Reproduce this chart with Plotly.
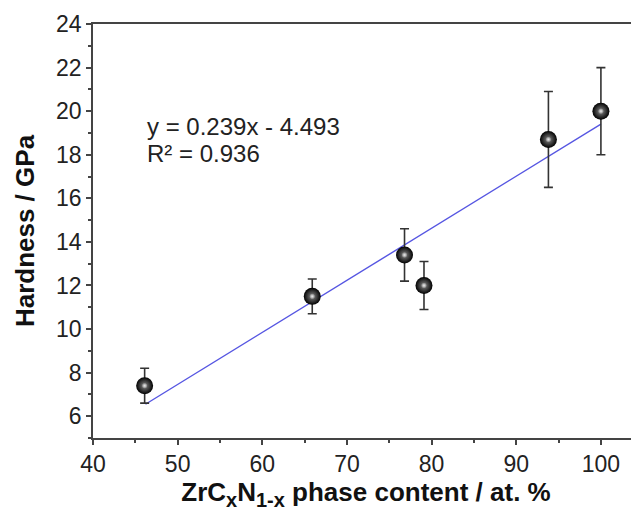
import plotly.graph_objects as go

# Data
phase_content = [46.1, 65.9, 76.8, 79.1, 93.8, 100.0]
hardness = [7.4, 11.5, 13.4, 12.0, 18.7, 20.0]
hardness_err = [0.8, 0.8, 1.2, 1.1, 2.2, 2.0]

fit_slope = 0.239
fit_intercept = -4.493
fit_x = [46.2, 100.0]
fit_y = [fit_slope * v + fit_intercept for v in fit_x]

eq_text = "y = 0.239x - 4.493"
r2_text = "R² = 0.936"

FONT = "Liberation Sans, Arial, sans-serif"
AXIS_COLOR = "#444444"

fig = go.Figure()

fig.add_trace(go.Scatter(
    x=fit_x, y=fit_y, mode="lines",
    line=dict(color="#5656e2", width=1.4),
    showlegend=False, hoverinfo="skip",
))

fig.add_trace(go.Scatter(
    x=phase_content, y=hardness, mode="markers",
    error_y=dict(type="data", array=hardness_err, visible=True,
                 color="#333333", thickness=1.6, width=4.5),
    marker=dict(size=17, color="#000000",
                gradient=dict(type="radial", color="#8a8a8a"),
                line=dict(width=0)),
    showlegend=False,
))

# small highlight on each sphere
fig.add_trace(go.Scatter(
    x=phase_content, y=hardness, mode="markers",
    marker=dict(size=6, color="rgba(255,255,255,0)",
                gradient=dict(type="radial", color="#e8e8e8"),
                line=dict(width=0)),
    showlegend=False, hoverinfo="skip",
))

fig.add_annotation(x=46.1, y=19.3, text=eq_text, showarrow=False,
                   xanchor="left", yanchor="middle",
                   font=dict(family=FONT, size=24, color="#222222"))
fig.add_annotation(x=46.1, y=18.05, text=r2_text, showarrow=False,
                   xanchor="left", yanchor="middle",
                   font=dict(family=FONT, size=24, color="#222222"))

x_title = ("<b>ZrC<sub><span style='font-size:20px'>x</span></sub>"
           "N<sub><span style='font-size:20px'>1-x</span></sub> phase content / at. %</b>")

# page body has an 8px default margin, so sizes/margins are reduced by 8
fig.update_layout(
    width=631, height=509,
    margin=dict(l=85, r=0, t=16, b=79),
    paper_bgcolor="white", plot_bgcolor="white",
    font=dict(family=FONT, size=23, color="#222222"),
    xaxis=dict(
        range=[40, 104.5], dtick=10, tick0=40,
        showgrid=False, zeroline=False,
        showline=True, linecolor=AXIS_COLOR, linewidth=1.5, mirror=True,
        ticks="outside", ticklen=5, tickwidth=1.5, tickcolor=AXIS_COLOR,
        minor=dict(ticks="outside", ticklen=3, tickwidth=1.5, dtick=5,
                   tickcolor=AXIS_COLOR, showgrid=False),
        tickfont=dict(family=FONT, size=23, color="#222222"),
        title=dict(text=x_title,
                   font=dict(family=FONT, size=26, color="#111111"), standoff=5),
    ),
    yaxis=dict(
        range=[5, 24], dtick=2, tick0=0,
        showgrid=False, zeroline=False,
        showline=True, linecolor=AXIS_COLOR, linewidth=1.5, mirror=False,
        ticks="outside", ticklen=5, tickwidth=1.5, tickcolor=AXIS_COLOR,
        minor=dict(ticks="outside", ticklen=3, tickwidth=1.5, dtick=1,
                   tickcolor=AXIS_COLOR, showgrid=False),
        tickfont=dict(family=FONT, size=23, color="#222222"),
        title=dict(text="<b>Hardness / GPa</b>",
                   font=dict(family=FONT, size=26, color="#111111"), standoff=14),
    ),
)

fig.write_html("out.html")
